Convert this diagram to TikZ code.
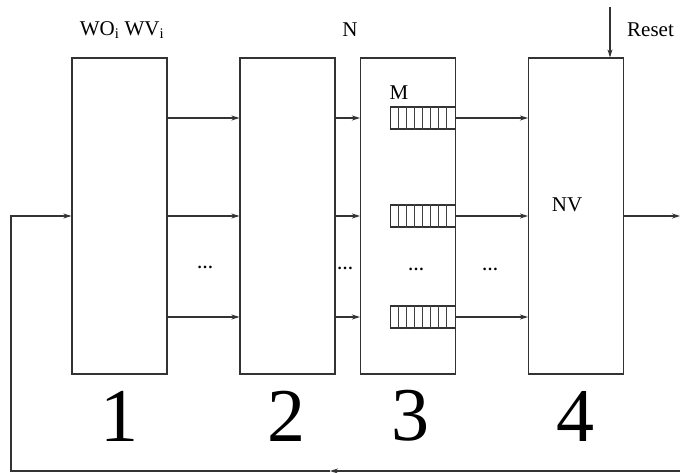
\documentclass[tikz,border=0pt]{standalone}
\usepackage{fontspec}
\setmainfont{Liberation Serif}
\usetikzlibrary{arrows.meta,calc}
\begin{document}
\begin{tikzpicture}[x=1pt,y=-1pt,
  line/.style={draw=black!80, line width=1.1pt},
  block/.style={line, rectangle, minimum width=95pt, minimum height=316pt, inner sep=0pt},
  flow/.style={line, -{Stealth[length=8pt,width=5pt]}},
  queue/.style={line, rectangle, minimum width=65pt, minimum height=22pt, inner sep=0pt},
  cell/.style={draw=black!75, line width=0.9pt},
  lbl/.style={font=\fontsize{21}{24}\selectfont, inner sep=0pt},
  num/.style={font=\fontsize{76}{80}\selectfont, inner sep=0pt},
  dots/.style={font=\fontsize{16}{18}\selectfont\bfseries, inner sep=0pt}]
\useasboundingbox (0,0) rectangle (680,473);

% processing stages
\node[block] (b1) at (119.5,216) {};
\node[block] (b2) at (287.5,216) {};
\node[block] (b3) at (408,216) {};
\node[block] (b4) at (576,216) {};

% queues inside stage 3, eight cells each
\foreach \n/\y in {q1/118, q2/216, q3/317} {
  \node[queue, anchor=east] (\n) at (b3.east |- 0,\y) {};
  \foreach \k in {1,...,7}
    \draw[cell] ($(\n.north west)+(\k*8.125,0)$) -- ($(\n.south west)+(\k*8.125,0)$);
}

% row connections
\foreach \y in {118,216,317} {
  \coordinate (r1) at (167,\y);
  \draw[flow] (b1.east |- r1) -- (b2.west |- r1);
  \draw[flow] (b2.east |- r1) -- (b3.west |- r1);
  \draw[flow] (b3.east |- r1) -- (b4.west |- r1);
}

% output and reset
\coordinate (out) at (680,216);
\draw[flow] (b4.east |- out) -- (out);
\coordinate (rst) at (610,7);
\draw[flow] (rst) -- (b4.north -| rst);

% feedback loop
\coordinate (fbR) at (680,471);
\coordinate (fbM) at (330,471);
\coordinate (fbL) at (11,471);
\draw[flow] (fbR) -- (fbM);
\draw[flow] (fbM) -- (fbL) |- (b1.west |- 0,216);

% labels
\node[lbl] (wo) at (122,30) {WO\textsubscript{i} WV\textsubscript{i}};
\node[lbl] (nlab) at (350,30) {N};
\node[lbl] (mlab) at (399,93) {M};
\node[lbl] (nv) at (567,205) {NV};
\node[lbl, anchor=west] (reset) at (627,30) {Reset};

\node[dots] (d1) at (205,267) {\ldots};
\node[dots] (d2) at (345,268) {\ldots};
\node[dots] (d3) at (416,269) {\ldots};
\node[dots] (d4) at (490,269) {\ldots};

\node[num] (n1) at (119,416) {1};
\node[num] (n2) at (286,416) {2};
\node[num] (n3) at (410,416) {3};
\node[num] (n4) at (575,416) {4};
\end{tikzpicture}
\end{document}
